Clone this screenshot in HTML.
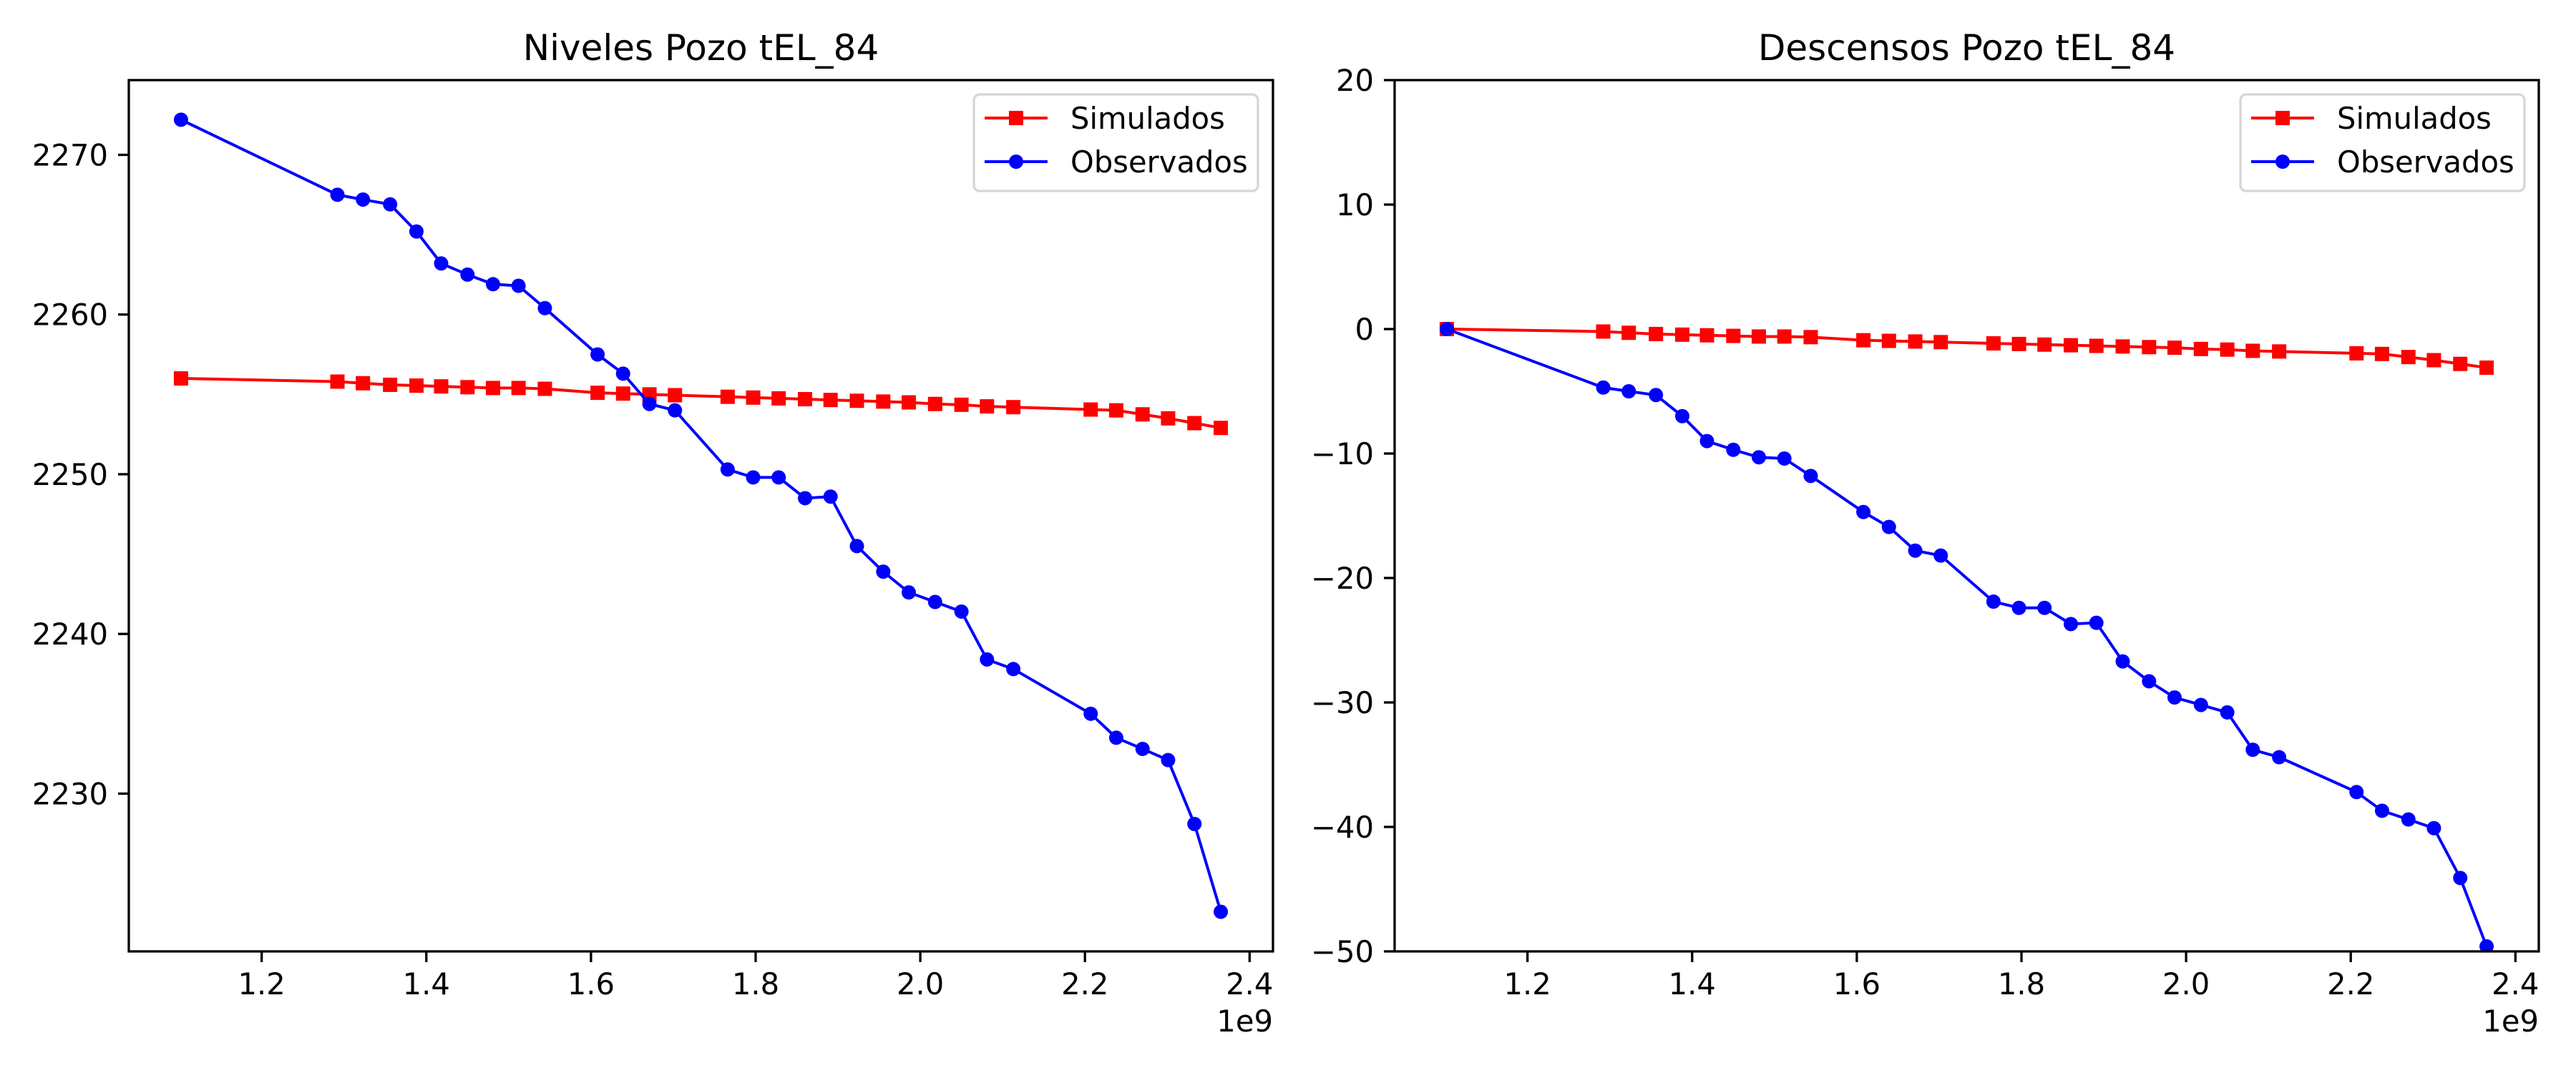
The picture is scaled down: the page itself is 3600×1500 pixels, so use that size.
<!DOCTYPE html>
<html><head><meta charset="utf-8"><style>
html,body{margin:0;padding:0;background:#fff;}
svg{display:block;font-family:"DejaVu Sans","Liberation Sans",sans-serif;}
</style></head><body>
<svg id="fig" width="3600" height="1500" viewBox="0 0 3600 1500" xmlns="http://www.w3.org/2000/svg"></svg>
<script>
const times = [1.102,1.292,1.323,1.356,1.388,1.418,1.450,1.481,1.512,1.544,1.608,1.639,1.671,1.702,1.766,1.797,1.828,1.860,1.891,1.923,1.955,1.986,2.018,2.050,2.081,2.113,2.207,2.238,2.270,2.301,2.333,2.365];
const simLevels = [2256.0,2255.8,2255.7,2255.6,2255.55,2255.5,2255.45,2255.4,2255.4,2255.35,2255.1,2255.05,2255.0,2254.95,2254.85,2254.8,2254.75,2254.7,2254.65,2254.6,2254.55,2254.5,2254.4,2254.35,2254.25,2254.2,2254.05,2254.0,2253.75,2253.5,2253.2,2252.9];
const obsLevels = [2272.2,2267.5,2267.2,2266.9,2265.2,2263.2,2262.5,2261.9,2261.8,2260.4,2257.5,2256.3,2254.4,2254.0,2250.3,2249.8,2249.8,2248.5,2248.6,2245.5,2243.9,2242.6,2242.0,2241.4,2238.4,2237.8,2235.0,2233.5,2232.8,2232.1,2228.1,2222.6];
const simDesc = [0,-0.2,-0.3,-0.4,-0.45,-0.5,-0.55,-0.6,-0.6,-0.65,-0.9,-0.95,-1.0,-1.05,-1.15,-1.2,-1.25,-1.3,-1.35,-1.4,-1.45,-1.5,-1.6,-1.65,-1.75,-1.8,-1.95,-2.0,-2.25,-2.5,-2.8,-3.1];
const obsDesc = [0,-4.7,-5.0,-5.3,-7.0,-9.0,-9.7,-10.3,-10.4,-11.8,-14.7,-15.9,-17.8,-18.2,-21.9,-22.4,-22.4,-23.7,-23.6,-26.7,-28.3,-29.6,-30.2,-30.8,-33.8,-34.4,-37.2,-38.7,-39.4,-40.1,-44.1,-49.6];
const xTicks = [1.2,1.4,1.6,1.8,2.0,2.2,2.4];
const yTicksLevels = [2230,2240,2250,2260,2270];
const yTicksDesc = [-50,-40,-30,-20,-10,0,10,20];

const NS="http://www.w3.org/2000/svg";
const fig=document.getElementById('fig');
function mk(tag,attrs,parent){const e=document.createElementNS(NS,tag);for(const k in attrs)e.setAttribute(k,attrs[k]);(parent||fig).appendChild(e);return e;}
function fmtY(v){return v<0?'\u2212'+Math.abs(v):String(v);}

function panel(name,L,R,T,B,xmin,xmax,ymin,ymax,yTicks,sim,obs,title,legX){
  const g=mk('g',{});
  
  
  const sx=v=>L+(v-xmin)/(xmax-xmin)*(R-L);
  const sy=v=>B-(v-ymin)/(ymax-ymin)*(B-T);
  const t=mk('text',{x:(L+R)/2,y:T-28,'font-size':50,'text-anchor':'middle'},g);
  t.textContent=title;
  
  
  xTicks.forEach(v=>{
    const x=sx(v);
    const l=mk('line',{x1:x,x2:x,y1:B,y2:B+15,stroke:'#000','stroke-width':3.3},g);
    
    
    const tx=mk('text',{x:x,y:B+60,'font-size':41.7,'text-anchor':'middle'},g);
    tx.textContent=v.toFixed(1);
    
    
  });
  yTicks.forEach(v=>{
    const y=sy(v);
    const l=mk('line',{x1:L-15,x2:L,y1:y,y2:y,stroke:'#000','stroke-width':3.3},g);
    
    
    const ty=mk('text',{x:L-29,y:y+15,'font-size':41.7,'text-anchor':'end'},g);
    ty.textContent=fmtY(v);
    
    
  });
  const off=mk('text',{x:R,y:B+112,'font-size':41.7,'text-anchor':'end'},g);
  off.textContent='1e9';
  
  
  // series
  const clip='clip-'+name;
  const cp=mk('clipPath',{id:clip},g);mk('rect',{x:L,y:T,width:R-L,height:B-T},cp);
  const sg=mk('g',{'clip-path':'url(#'+clip+')'},g);
  const ps=mk('polyline',{points:times.map((v,i)=>sx(v)+','+sy(sim[i])).join(' '),fill:'none',stroke:'#ff0000','stroke-width':4},sg);
  
  
  times.forEach((v,i)=>{
    const r=mk('rect',{x:sx(v)-10,y:sy(sim[i])-10,width:20,height:20,fill:'#ff0000'},sg);
    
    
  });
  const po=mk('polyline',{points:times.map((v,i)=>sx(v)+','+sy(obs[i])).join(' '),fill:'none',stroke:'#0000ff','stroke-width':4},sg);
  
  
  times.forEach((v,i)=>{
    const c=mk('circle',{cx:sx(v),cy:sy(obs[i]),r:10,fill:'#0000ff'},sg);
    
    
  });
  const fr=mk('rect',{x:L,y:T,width:R-L,height:B-T,fill:'none',stroke:'#000','stroke-width':3.3},g);
  
  
  // legend
  const lg=mk('g',{},g);
  
  
  mk('rect',{x:legX,y:132,width:397,height:135,rx:8,fill:'#fff','fill-opacity':0.8,stroke:'#d6d6d6','stroke-width':3.3},lg);
  mk('line',{x1:legX+15,x2:legX+103,y1:165,y2:165,stroke:'#ff0000','stroke-width':4},lg);
  mk('rect',{x:legX+49,y:155,width:20,height:20,fill:'#ff0000'},lg);
  const t1=mk('text',{x:legX+135,y:180,'font-size':41.7},lg);t1.textContent='Simulados';
  
  
  mk('line',{x1:legX+15,x2:legX+103,y1:226,y2:226,stroke:'#0000ff','stroke-width':4},lg);
  mk('circle',{cx:legX+59,cy:226,r:10,fill:'#0000ff'},lg);
  const t2=mk('text',{x:legX+135,y:241,'font-size':41.7},lg);t2.textContent='Observados';
  
  
}
panel('niveles-panel',180,1779,112,1330,1.0386,2.4284,2220.12,2274.68,yTicksLevels,simLevels,obsLevels,'Niveles Pozo tEL_84',1361);
panel('descensos-panel',1949,3548,112,1330,1.0386,2.4284,-50,20,yTicksDesc,simDesc,obsDesc,'Descensos Pozo tEL_84',3131);
</script>
</body></html>
